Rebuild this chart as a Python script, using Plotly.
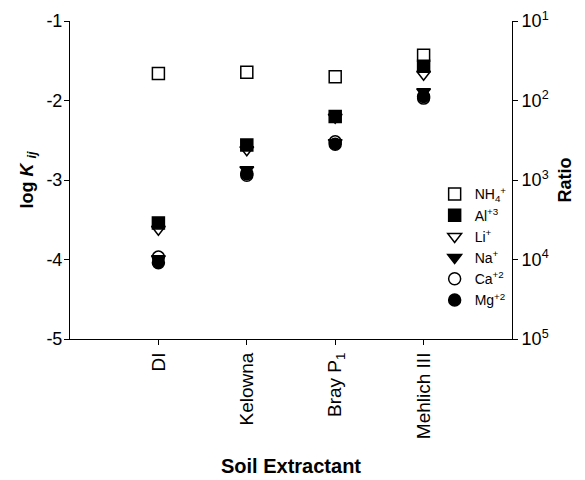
import plotly.graph_objects as go

categories = ["DI", "Kelowna", "Bray P<sub>1</sub>", "Mehlich III"]
cat_pos = [1, 2, 3, 4]

nh4 = [-1.66, -1.645, -1.70, -1.43]
al = [-3.54, -2.56, -2.20, -1.57]
li = [-3.62, -2.62, -2.21, -1.67]
na = [-3.99, -2.87, -2.53, -1.89]
ca = [-3.97, -2.94, -2.52, -1.97]
mg = [-4.04, -2.92, -2.55, -1.95]

ratio_ticks = [1e1, 1e2, 1e3, 1e4, 1e5]
ratio_labels = ["10<sup>1</sup>", "10<sup>2</sup>", "10<sup>3</sup>", "10<sup>4</sup>", "10<sup>5</sup>"]

series = [
    # (name, values, symbol, legend rank)
    ("NH<sub>4</sub><sup>+</sup>", nh4, "square-open", 1),
    ("Al<sup>+3</sup>", al, "square", 2),
    ("Li<sup>+</sup>", li, "triangle-down-open", 3),
    ("Mg<sup>+2</sup>", mg, "circle", 6),
    ("Na<sup>+</sup>", na, "triangle-down", 4),
    ("Ca<sup>+2</sup>", ca, "circle-open", 5),
]

fig = go.Figure()
for name, vals, sym, rank in series:
    fig.add_trace(go.Scatter(
        x=cat_pos, y=vals, mode="markers", name=name, legendrank=rank,
        marker=dict(symbol=sym, size=12, color="black", line=dict(color="black", width=1.5)),
    ))

# invisible trace on the ratio axis so the secondary axis is drawn
fig.add_trace(go.Scatter(
    x=cat_pos, y=[10 ** (-v) for v in nh4], yaxis="y2", mode="markers",
    marker=dict(opacity=0), showlegend=False, hoverinfo="skip",
))

# the page body has an 8px default margin, so the figure is sized to fit inside the window
font_family = "Liberation Sans, Arial, sans-serif"
fig.update_layout(
    width=577, height=472,
    margin=dict(l=62, r=73, t=13, b=141, autoexpand=False),
    paper_bgcolor="white", plot_bgcolor="white",
    font=dict(family=font_family, color="black", size=14),
    showlegend=True,
    legend=dict(x=0.825, y=0.505, xanchor="left", yanchor="top",
                font=dict(size=14), tracegroupgap=0, itemwidth=30,
                bgcolor="rgba(0,0,0,0)"),
    xaxis=dict(range=[0, 5], tickvals=cat_pos, ticktext=categories, tickangle=-90,
               showline=True, linecolor="black", linewidth=1, ticks="outside",
               ticklen=5, tickcolor="black", showgrid=False, zeroline=False,
               automargin=False, tickfont=dict(size=19),
               title=dict(text="<b>Soil Extractant</b>", font=dict(size=20), standoff=20)),
    yaxis=dict(range=[-5, -1], tickvals=[-5, -4, -3, -2, -1], ticktext=["-5", "-4", "-3", "-2", "-1"],
               showline=True, linecolor="black", linewidth=1, ticks="outside",
               ticklen=5, tickcolor="black", showgrid=False, zeroline=False,
               automargin=False, tickfont=dict(size=18), ticklabelstandoff=-2,
               title=dict(text="<b>log <i>K</i> <sub><i>ij</i></sub></b>", font=dict(size=18), standoff=8)),
    yaxis2=dict(type="log", range=[5, 1], overlaying="y", side="right",
                tickvals=ratio_ticks, ticktext=ratio_labels,
                showline=True, linecolor="black", linewidth=1, ticks="outside",
                ticklen=5, tickcolor="black", showgrid=False, zeroline=False,
                automargin=False, tickfont=dict(size=18),
                title=dict(text="<b>Ratio</b>", font=dict(size=18), standoff=10)),
)

fig.write_html("out.html")
